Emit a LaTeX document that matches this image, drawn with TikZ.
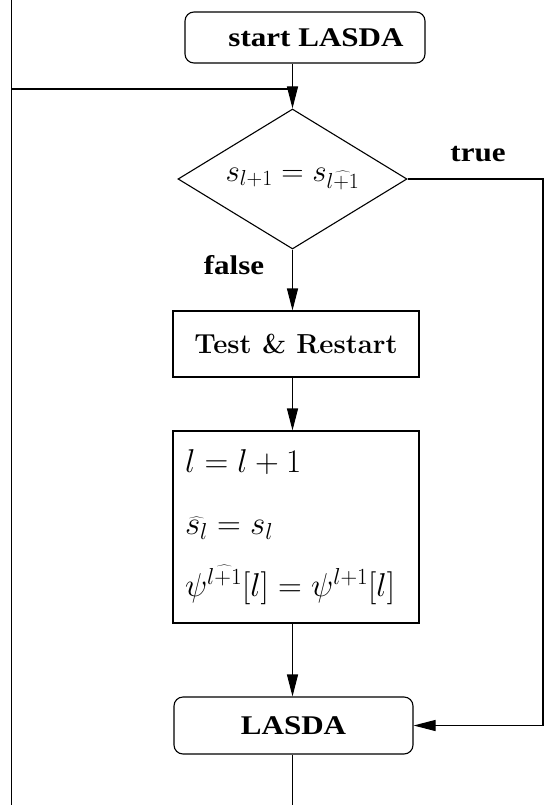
\RequirePackage{fix-cm}
\documentclass[tikz,border=0pt]{standalone}
\usepackage{fontspec}
\newfontfamily\timesfont{Liberation Serif}[FakeStretch=1.15]
\usetikzlibrary{shapes.geometric,arrows.meta}

\begin{document}
\begin{tikzpicture}[x=1pt,y=-1pt,line width=1.1pt,
  rblock/.style={draw,rounded corners=9pt,font=\fontsize{27}{31}\selectfont\timesfont\bfseries},
  block/.style={draw,minimum width=246pt},
  tag/.style={font=\fontsize{27}{31}\selectfont\timesfont\bfseries},
  link/.style={-{Triangle[length=22pt,width=11pt]}}]
\useasboundingbox (0,0) rectangle (544,805);
\clip (0,0) rectangle (544,805);

% Start and decision
\node[rblock,minimum width=240pt,minimum height=51pt] (start) at (305,37.5) {\hspace*{22pt}start LASDA};
\node[draw,diamond,aspect=1.64,inner sep=0pt,minimum width=229pt,minimum height=140pt,
  font=\fontsize{31}{35}\selectfont] (dec) at (292.5,179) {$s_{l+1}=s_{\widehat{l+1}}$};
\node[tag] (true) at (478,154) {true};
\node[tag] (false) at (234,265) {false};

% Restart and update boxes
\node[block,minimum height=66pt,font=\fontsize{27.5}{31}\selectfont\bfseries] (test) at (296,344) {Test \& Restart};
\node[block,minimum height=192pt,text width=222pt,inner sep=12pt,align=left,
  font=\fontsize{33}{62}\selectfont] (assign) at (296,527)
  {$l=l+1$\\ $\widehat{s_l}=s_l$\\ $\psi^{\widehat{l+1}}[l]=\psi^{l+1}[l]$};

% Main LASDA block
\node[rblock,minimum width=239pt,minimum height=57pt] (lasda) at (293.5,725.5) {LASDA};

% Helper points at the picture edges
\coordinate (merge) at (292.5,89);
\coordinate (rt) at (543,0);
\coordinate (lt) at (11.5,0);
\coordinate (bot) at (0,860);

% Connectors
\draw[link] (start.south -| dec.north) -- (dec.north);
\draw[link] (dec.south) -- (dec.south |- test.north);
\draw[link] (dec.south |- test.south) -- (dec.south |- assign.north);
\draw[link] (dec.south |- assign.south) -- (dec.south |- lasda.north);
\draw[link] (dec.east) -- (dec.east -| rt) |- (lasda.east);
\draw (dec.south |- lasda.south) -- (dec.south |- bot) -| (lt) |- (merge);
\end{tikzpicture}
\end{document}
